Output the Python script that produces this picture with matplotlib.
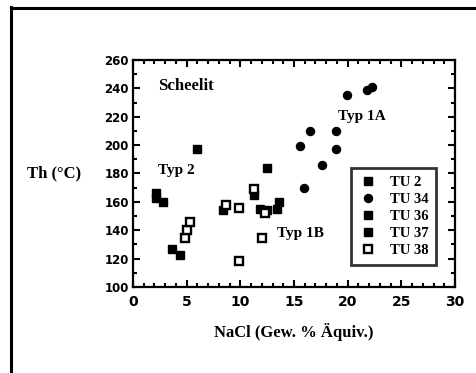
import matplotlib
matplotlib.use("Agg")
import matplotlib.pyplot as plt
from matplotlib.lines import Line2D
from matplotlib.ticker import MultipleLocator

# Data (NaCl wt% eq., Th °C)
tu2_x = [2.1, 2.1, 2.8]
tu2_y = [166.5, 163.0, 160.0]
tu34_x = [22.3, 21.8, 19.9, 16.5, 18.9, 15.6, 18.9, 17.6, 15.9]
tu34_y = [241.0, 239.0, 235.0, 210.0, 210.0, 199.5, 197.0, 186.0, 170.0]
tu36_x = [6.0, 12.5, 3.6, 4.4]
tu36_y = [197.0, 184.0, 126.5, 122.5]
tu37_x = [8.4, 11.3, 11.8, 12.5, 13.4, 13.6]
tu37_y = [154.0, 165.0, 155.0, 154.0, 155.0, 160.0]
tu38_x = [8.7, 9.9, 9.9, 12.0, 12.3, 4.85, 5.06, 5.3, 11.3]
tu38_y = [158.0, 155.5, 118.5, 134.5, 152.5, 134.5, 140.5, 146.0, 169.0]

series_labels = ["TU 2", "TU 34", "TU 36", "TU 37", "TU 38"]
annotations = [("Scheelit", 2.3, 242), ("Typ 2", 2.3, 182), ("Typ 1A", 19.1, 220), ("Typ 1B", 13.4, 138)]
x_ticks = [0, 5, 10, 15, 20, 25, 30]
y_ticks = [100, 120, 140, 160, 180, 200, 220, 240, 260]

serif = ["Liberation Serif", "DejaVu Serif"]

fig = plt.figure(figsize=(4.76, 3.73), dpi=100)
ax = fig.add_axes([133/476, 1-287/373, 322/476, 227/373])

ax.plot(tu2_x, tu2_y, ls="none", marker="s", ms=5.8, color="black", label=series_labels[0])
ax.plot(tu34_x, tu34_y, ls="none", marker="o", ms=5.8, color="black", label=series_labels[1])
ax.plot(tu36_x, tu36_y, ls="none", marker="s", ms=6.4, color="black", label=series_labels[2])
ax.plot(tu37_x, tu37_y, ls="none", marker="s", ms=5.8, color="black", label=series_labels[3])
ax.plot(tu38_x, tu38_y, ls="none", marker="s", ms=5.2, mfc="white", mec="black", mew=1.7, label=series_labels[4])

ax.set_xlim(0, 30)
ax.set_ylim(100, 260)
ax.set_xticks(x_ticks)
ax.set_yticks(y_ticks)
ax.xaxis.set_minor_locator(MultipleLocator(1))
ax.yaxis.set_minor_locator(MultipleLocator(10))
ax.tick_params(which="both", direction="in", top=True, right=True, width=1.5)
ax.tick_params(which="major", length=5)
ax.tick_params(which="minor", length=3)
ax.tick_params(axis="x", which="major", pad=6)
ax.tick_params(axis="y", which="major", pad=3)
for lab in ax.get_xticklabels():
    lab.set_fontfamily("DejaVu Sans"); lab.set_fontweight("bold"); lab.set_fontsize(10)
for lab in ax.get_yticklabels():
    lab.set_fontfamily("DejaVu Sans"); lab.set_fontweight("bold"); lab.set_fontsize(8.5)
for sp in ax.spines.values():
    sp.set_linewidth(1.6)

ax.set_xlabel("NaCl (Gew. % Äquiv.)", family=serif, fontweight="bold", fontsize=12, labelpad=10)
fig.text(54/476, 1-173/373, "Th (°C)", family=serif, fontweight="bold", fontsize=12,
         ha="center", va="center")

for txt, x, y in annotations:
    ax.text(x, y, txt, family=serif, fontweight="bold", fontsize=12 if txt == "Scheelit" else 11,
            ha="left", va="center")

leg = ax.legend(loc="upper left", bbox_to_anchor=(0.677, 0.524), prop={"family": serif, "weight": "bold", "size": 10.5},
                frameon=True, fancybox=False, edgecolor="black", labelspacing=0.25, handletextpad=0.9,
                handlelength=1.2, borderpad=0.55, borderaxespad=0, numpoints=1)
leg.get_frame().set_linewidth(2)

fig.add_artist(Line2D([10.5/476, 10.5/476], [0, 1-7/373], color="black", lw=2.2))
fig.add_artist(Line2D([10.5/476, 1], [1-8/373, 1-8/373], color="black", lw=2.2))

fig.savefig("out.png", dpi=100)
